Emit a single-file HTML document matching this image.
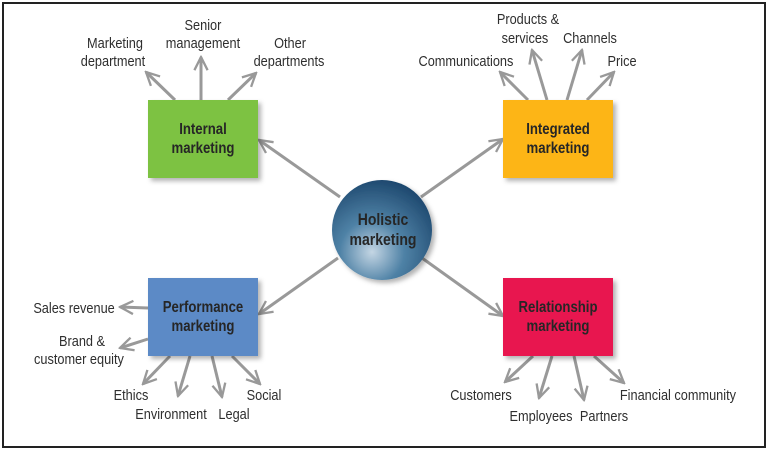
<!DOCTYPE html>
<html><head><meta charset="utf-8"><style>
html,body{margin:0;padding:0;background:#fff;}
svg{display:block;}
text{font-family:"Liberation Sans",sans-serif;fill:#2e2e2e;font-size:15px;}
.b{font-weight:bold;fill:#262626;font-size:15.5px;}
</style></head><body>
<svg width="768" height="450" viewBox="0 0 768 450" xmlns="http://www.w3.org/2000/svg">
<defs>
<marker id="a" viewBox="0 0 10 10" refX="9" refY="5" markerWidth="5.5" markerHeight="5.5" orient="auto" markerUnits="strokeWidth">
<path d="M1,1 L9,5 L1,9" fill="none" stroke="#999" stroke-width="1.4"/>
</marker>
<radialGradient id="g" cx="0.4" cy="0.72" r="0.8">
<stop offset="0" stop-color="#c4d6e4"/><stop offset="0.4" stop-color="#4f82a6"/><stop offset="1" stop-color="#163f66"/>
</radialGradient>
<filter id="s" x="-20%" y="-20%" width="150%" height="150%"><feDropShadow dx="3" dy="3" stdDeviation="2.5" flood-color="#000" flood-opacity="0.3"/></filter>
</defs>
<rect x="3" y="3" width="762" height="444" fill="#fff" stroke="#222" stroke-width="2"/>
<g stroke="#999" stroke-width="3" fill="none" marker-end="url(#a)">
<line x1="175" y1="100" x2="146" y2="72"/>
<line x1="201" y1="100" x2="201" y2="57"/>
<line x1="228" y1="100" x2="256" y2="73"/>
<line x1="528" y1="100" x2="500" y2="72"/>
<line x1="547" y1="100" x2="532" y2="50"/>
<line x1="567" y1="100" x2="582" y2="50"/>
<line x1="587" y1="100" x2="614" y2="72"/>
<line x1="340" y1="197" x2="259" y2="140"/>
<line x1="421" y1="197" x2="503" y2="139"/>
<line x1="338" y1="258" x2="259" y2="314"/>
<line x1="422" y1="258" x2="503" y2="316"/>
<line x1="148" y1="308" x2="120" y2="307"/>
<line x1="148" y1="339" x2="120" y2="348"/>
<line x1="170" y1="356" x2="143" y2="384"/>
<line x1="190" y1="356" x2="178" y2="396"/>
<line x1="212" y1="356" x2="222" y2="397"/>
<line x1="232" y1="356" x2="260" y2="384"/>
<line x1="533" y1="356" x2="505" y2="382"/>
<line x1="552" y1="356" x2="539" y2="398"/>
<line x1="574" y1="356" x2="584" y2="400"/>
<line x1="594" y1="356" x2="624" y2="383"/>
</g>
<rect x="148" y="100" width="110" height="78" fill="#7dc242" filter="url(#s)"/>
<rect x="503" y="100" width="110" height="78" fill="#fdb515" filter="url(#s)"/>
<rect x="148" y="278" width="110" height="78" fill="#5b8ac6" filter="url(#s)"/>
<rect x="503" y="278" width="110" height="78" fill="#e8174f" filter="url(#s)"/>
<circle cx="382" cy="230" r="50" fill="url(#g)" filter="url(#s)"/>
<g text-anchor="middle" transform="scale(0.85,1)">
<text class="b" x="238.8" y="134">Internal</text><text class="b" x="238.8" y="153">marketing</text>
<text class="b" x="656.5" y="134">Integrated</text><text class="b" x="656.5" y="153">marketing</text>
<text class="b" x="238.8" y="312">Performance</text><text class="b" x="238.8" y="331">marketing</text>
<text class="b" x="656.5" y="312">Relationship</text><text class="b" x="656.5" y="331">marketing</text>
<text class="b" x="450.6" y="225" style="font-size:16.5px">Holistic</text><text class="b" x="450.6" y="245" style="font-size:16.5px">marketing</text>
<text x="135.3" y="48">Marketing</text><text x="132.9" y="66">department</text>
<text x="238.8" y="30">Senior</text><text x="238.8" y="48">management</text>
<text x="341.2" y="48">Other</text><text x="340" y="66">departments</text>
<text x="548.2" y="66">Communications</text>
<text x="621.2" y="24">Products &amp;</text><text x="617.6" y="43">services</text>
<text x="694.1" y="43">Channels</text>
<text x="731.8" y="66">Price</text>
<text x="87.1" y="313">Sales revenue</text>
<text x="96.5" y="346">Brand &amp;</text><text x="92.9" y="364">customer equity</text>
<text x="154.1" y="400">Ethics</text><text x="201.2" y="419">Environment</text>
<text x="275.3" y="419">Legal</text><text x="310.6" y="400">Social</text>
<text x="565.9" y="400">Customers</text><text x="636.5" y="421">Employees</text>
<text x="710.6" y="421">Partners</text><text x="797.6" y="400">Financial community</text>
</g>
</svg>
</body></html>
